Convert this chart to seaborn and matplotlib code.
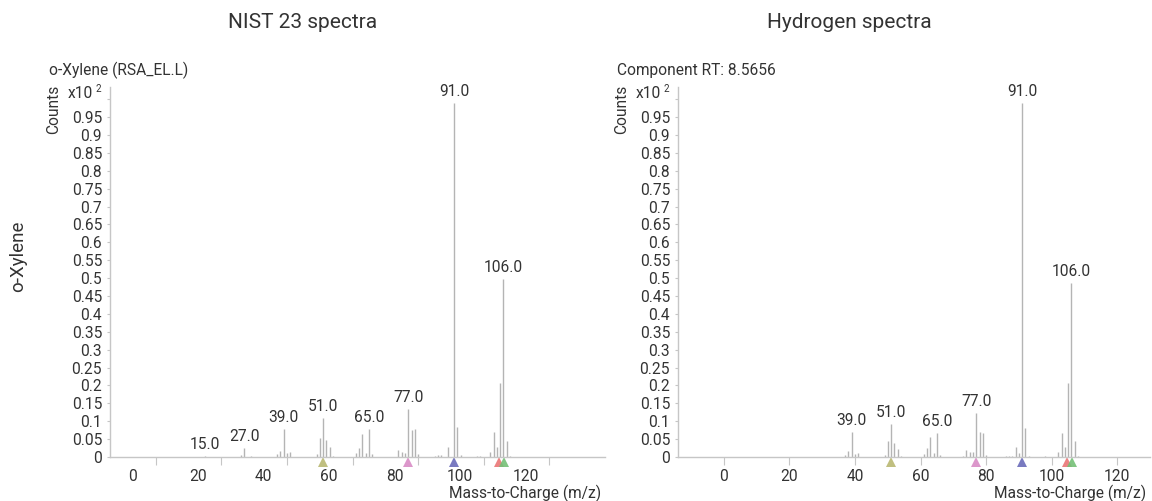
import matplotlib
matplotlib.use('Agg')
import matplotlib.pyplot as plt
import matplotlib.transforms as mtransforms
import numpy as np
import pandas as pd
import seaborn as sns

# NIST 23 library spectrum of o-Xylene (counts x10^2)
nist_mz = [15, 26, 27, 29, 37, 38, 39, 40, 41, 49, 50, 51, 52, 53, 54,
           61, 62, 63, 64, 65, 66, 74, 75, 76, 77, 78, 79, 80, 85, 86,
           87, 89, 91, 92, 93, 98, 99, 102, 103, 104, 105, 106, 107, 108]
nist_counts = [0.003, 0.006, 0.025, 0.004, 0.008, 0.017, 0.079, 0.010,
               0.013, 0.008, 0.053, 0.110, 0.047, 0.028, 0.004, 0.010,
               0.026, 0.064, 0.012, 0.078, 0.008, 0.020, 0.013, 0.010,
               0.134, 0.075, 0.077, 0.008, 0.004, 0.005, 0.005, 0.028,
               0.990, 0.083, 0.006, 0.004, 0.003, 0.015, 0.070, 0.028,
               0.207, 0.497, 0.045, 0.004]
nist_labels = [15, 27, 39, 51, 65, 77, 91, 106]

# hydrogen carrier gas spectrum
h2_mz = [37, 38, 39, 40, 41, 49, 50, 51, 52, 53, 54, 61, 62, 63, 64, 65,
         66, 73, 74, 75, 76, 77, 78, 79, 80, 86, 87, 88, 89, 90, 91, 92,
         93, 98, 102, 103, 104, 105, 106, 107, 108]
h2_counts = [0.005, 0.017, 0.070, 0.008, 0.010, 0.006, 0.045, 0.092,
             0.040, 0.022, 0.004, 0.008, 0.024, 0.056, 0.010, 0.067,
             0.006, 0.004, 0.020, 0.013, 0.013, 0.122, 0.070, 0.066,
             0.006, 0.004, 0.004, 0.004, 0.028, 0.010, 0.990, 0.082,
             0.004, 0.004, 0.015, 0.067, 0.028, 0.207, 0.486, 0.045,
             0.004]
h2_labels = [39, 51, 65, 77, 91, 106]

# ion markers under the axis
ion_mz = [51, 77, 91, 104.7, 106.3]
ion_colors = ['#b9b872', '#d98cc6', '#6b6cba', '#ea7676', '#74c077']

y_ticks = [round(0.05 * i, 2) for i in range(21)]
x_ticks = [0, 20, 40, 60, 80, 100, 120]

sns.set_theme(style='white')
plt.rcParams['font.family'] = ['Roboto', 'DejaVu Sans']
text_color = '#333333'
axis_color = '#c6c6c6'
small = 11.2
W, H = 1152, 501


def draw_spectrum(fig, rect, mz, counts, labels, header, xmax, label_shift):
    ax = fig.add_axes(rect)
    df = pd.DataFrame({'mz': mz, 'counts': counts})
    ax.vlines(df['mz'], 0, df['counts'], color='#b4b4b4', linewidth=1)
    peaks = df[df['mz'].isin(labels)]
    lift = mtransforms.offset_copy(ax.transData, fig=fig, y=4, units='dots')
    for _, row in peaks.iterrows():
        ax.text(row['mz'], row['counts'], f"{row['mz']:.1f}",
                transform=lift, ha='center', va='bottom', fontsize=small,
                color=text_color)

    down = mtransforms.offset_copy(ax.transData, fig=fig, y=-5, units='dots')
    for m, c in zip(ion_mz, ion_colors):
        ax.plot([m], [0], marker='^', markersize=7.5, color=c,
                markeredgewidth=0, transform=down, clip_on=False,
                alpha=0.9)

    ax.set_xlim(-14, xmax)
    ax.set_ylim(0, 1.034)
    ax.set_yticks(y_ticks)
    ax.set_yticklabels(['%g' % v if v < 1 else '' for v in y_ticks])
    ax.set_xticks(x_ticks)
    ax.set_xticklabels([str(v) for v in x_ticks])
    sns.despine(ax=ax)
    for side in ['left', 'bottom']:
        ax.spines[side].set_color(axis_color)
        ax.spines[side].set_linewidth(1)
    ax.tick_params(axis='y', length=2.2, width=0.8, color=axis_color,
                   labelsize=small, labelcolor=text_color, pad=3.5, left=True)
    ax.tick_params(axis='x', length=5.8, width=0.8, color=axis_color,
                   labelsize=small, labelcolor=text_color, pad=2.5,
                   bottom=True)
    if label_shift:
        shift = mtransforms.ScaledTranslation(label_shift / 100, 0,
                                              fig.dpi_scale_trans)
        for lbl in ax.get_xticklabels():
            lbl.set_transform(lbl.get_transform() + shift)
    ax.grid(False)

    x0 = rect[0] * W
    fig.text((x0 - 61) / W, 1 - 70 / H, header, fontsize=small,
             color=text_color, va='center', ha='left')
    fig.text((x0 - 56) / W, 1 - 109 / H, 'Counts', fontsize=small,
             color=text_color, rotation=90, va='center', ha='center')
    fig.text((x0 - 42) / W, 1 - 93 / H, 'x10', fontsize=small,
             color=text_color, va='center', ha='left')
    fig.text((x0 - 14) / W, 1 - 89 / H, '2', fontsize=7,
             color=text_color, va='center', ha='left')
    x1 = (rect[0] + rect[2]) * W
    fig.text((x1 - 4) / W, 1 - 493 / H, 'Mass-to-Charge (m/z)',
             fontsize=small, color=text_color, va='center', ha='right')
    return ax


fig = plt.figure(figsize=(W / 100, H / 100), dpi=100)
bottom = (H - 457) / H
height = (457 - 87) / H
draw_spectrum(fig, [110 / W, bottom, (605 - 110) / W, height],
              nist_mz, nist_counts, nist_labels, 'o-Xylene (RSA_EL.L)',
              137, -23.5)
draw_spectrum(fig, [678 / W, bottom, (1150 - 678) / W, height],
              h2_mz, h2_counts, h2_labels, 'Component RT: 8.5656',
              130, 0)

fig.text(303 / W, 1 - 22 / H, 'NIST 23 spectra', fontsize=15,
         color=text_color, ha='center', va='center')
fig.text(849 / W, 1 - 22 / H, 'Hydrogen spectra', fontsize=15,
         color=text_color, ha='center', va='center')
fig.text(18 / W, 1 - 256 / H, 'o-Xylene', fontsize=13.5, rotation=90,
         color=text_color, ha='center', va='center')

fig.savefig('out.png', dpi=100)
